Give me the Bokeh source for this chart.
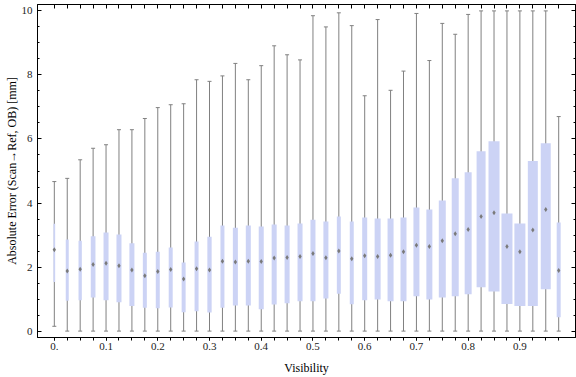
from bokeh.plotting import figure
from bokeh.models import (LinearAxis, FixedTicker, SingleIntervalTicker, Range1d,
                          CustomJSTickFormatter, ColumnDataSource)
from bokeh.embed import file_html
from bokeh.resources import INLINE

# ---- data ----
visibility = [0.0, 0.025, 0.05, 0.075, 0.1, 0.125, 0.15, 0.175, 0.2, 0.225,
              0.25, 0.275, 0.3, 0.325, 0.35, 0.375, 0.4, 0.425, 0.45, 0.475,
              0.5, 0.525, 0.55, 0.575, 0.6, 0.625, 0.65, 0.675, 0.7, 0.725,
              0.75, 0.775, 0.8, 0.825, 0.85, 0.875, 0.9, 0.925, 0.95, 0.975]

whisker_low = [0.15, 0, 0, 0, 0, 0, 0, 0, 0, 0,
               0, 0, 0, 0, 0, 0, 0, 0, 0, 0,
               0, 0, 0, 0, 0, 0, 0, 0, 0, 0,
               0, 0, 0, 0, 0, 0, 0, 0, 0, 0]

q1 = [1.53, 0.95, 0.96, 1.05, 0.96, 0.90, 0.78, 0.73, 0.71, 0.74,
      0.59, 0.62, 0.58, 0.73, 0.80, 0.80, 0.68, 0.83, 0.87, 0.93,
      0.93, 1.02, 1.17, 0.84, 0.96, 0.99, 0.93, 0.93, 1.09, 0.99,
      1.05, 1.09, 1.15, 1.37, 1.24, 0.85, 0.78, 0.78, 1.31, 0.43]

median = [2.54, 1.88, 1.93, 2.08, 2.12, 2.04, 1.91, 1.73, 1.86, 1.92,
          1.63, 1.95, 1.91, 2.18, 2.16, 2.18, 2.17, 2.28, 2.30, 2.33,
          2.42, 2.29, 2.50, 2.26, 2.35, 2.33, 2.37, 2.48, 2.68, 2.64,
          2.82, 3.04, 3.17, 3.58, 3.70, 2.64, 2.48, 3.16, 3.80, 1.89]

q3 = [3.35, 2.86, 2.82, 2.96, 3.08, 3.02, 2.74, 2.45, 2.48, 2.61,
      2.14, 2.80, 2.95, 3.30, 3.23, 3.30, 3.27, 3.33, 3.30, 3.36,
      3.48, 3.42, 3.58, 3.42, 3.55, 3.52, 3.52, 3.55, 3.86, 3.80,
      4.08, 4.77, 4.96, 5.62, 5.93, 3.67, 3.36, 5.31, 5.87, 3.39]

whisker_high = [4.67, 4.77, 5.35, 5.71, 5.82, 6.29, 6.29, 6.64, 6.98, 7.07,
                7.10, 7.85, 7.80, 7.97, 8.36, 7.85, 8.29, 8.91, 8.63, 8.47,
                9.85, 9.50, 9.94, 9.54, 7.35, 9.73, 7.52, 8.12, 9.92, 8.45,
                9.61, 9.27, 9.89, 10.0, 10.0, 10.0, 10.0, 10.0, 10.0, 6.70]

# relative box widths (in Visibility units), varying per bin as in the reference
box_width = [0.0033, 0.0058, 0.0064, 0.0091, 0.0097, 0.0097, 0.0097, 0.0077, 0.0077, 0.0077,
             0.0077, 0.0077, 0.0083, 0.0077, 0.0097, 0.0097, 0.0097, 0.0097, 0.0097, 0.0097,
             0.0097, 0.0097, 0.0077, 0.0077, 0.0097, 0.0116, 0.0116, 0.0116, 0.0116, 0.0116,
             0.0135, 0.0135, 0.0135, 0.0174, 0.0213, 0.0213, 0.0213, 0.0193, 0.0193, 0.0077]

x_label_ticks = [0.0, 0.1, 0.2, 0.3, 0.4, 0.5, 0.6, 0.7, 0.8, 0.9]

src = ColumnDataSource(dict(x=visibility, lo=whisker_low, q1=q1, med=median,
                            q3=q3, hi=whisker_high, w=box_width))

FONT = "Liberation Serif"
GRAY = "#808080"
BOX = "#CCD3F5"

p = figure(width=576, height=377, output_backend="svg", toolbar_location=None,
           x_range=Range1d(-0.0325, 1.0075), y_range=Range1d(-0.2, 10.2),
           min_border_left=37, min_border_right=1, min_border_top=4, min_border_bottom=40)
p.grid.visible = False
p.outline_line_color = "black"
p.outline_line_width = 1
p.background_fill_color = "white"
p.border_fill_color = "white"

# whiskers
p.segment(x0="x", y0="lo", x1="x", y1="hi", source=src, line_color=GRAY, line_width=1)
p.scatter(x="x", y="lo", source=src, marker="dash", size=4, line_color=GRAY, line_width=1)
p.scatter(x="x", y="hi", source=src, marker="dash", size=4, line_color=GRAY, line_width=1)
# boxes
p.vbar(x="x", width="w", bottom="q1", top="q3", source=src, fill_color=BOX, line_color=None)
# medians
p.scatter(x="x", y="med", source=src, marker="diamond", size=5, fill_color="#7a7a7a",
          line_color=None)

# bottom axis
xa = p.xaxis[0]
xa.ticker = FixedTicker(ticks=x_label_ticks, minor_ticks=visibility)
xa.formatter = CustomJSTickFormatter(code="return Math.abs(tick) < 1e-9 ? '0.' : tick.toFixed(1);")
xa.major_tick_in = 0
xa.major_tick_out = 3
xa.minor_tick_in = 0
xa.minor_tick_out = 3
xa.major_label_standoff = 2
xa.axis_label = "Visibility"
xa.axis_label_standoff = 8

# left axis
ya = p.yaxis[0]
ya.ticker = SingleIntervalTicker(interval=2, num_minor_ticks=4)
ya.major_tick_in = 4
ya.major_tick_out = 0
ya.minor_tick_in = 2
ya.minor_tick_out = 0
ya.major_label_standoff = 5
ya.axis_label = "Absolute Error (Scan\u2192Ref, OB) [mm]"
ya.axis_label_standoff = 0

for ax in (xa, ya):
    ax.axis_line_color = "black"
    ax.major_tick_line_color = "black"
    ax.minor_tick_line_color = "black"
    ax.major_label_text_font = FONT
    ax.major_label_text_font_size = "11px"
    ax.major_label_text_color = "#222222"
    ax.axis_label_text_font = FONT
    ax.axis_label_text_font_size = "12px"
    ax.axis_label_text_font_style = "normal"
    ax.axis_label_text_color = "black"

blank = CustomJSTickFormatter(code="return '';")

# right axis (ticks only)
ra = LinearAxis(ticker=SingleIntervalTicker(interval=2, num_minor_ticks=4),
                formatter=blank,
                major_tick_in=4, major_tick_out=0, minor_tick_in=2, minor_tick_out=0,
                major_label_standoff=0, axis_line_color="black")
p.add_layout(ra, "right")

# top axis (ticks only)
ta = LinearAxis(ticker=FixedTicker(ticks=visibility), formatter=CustomJSTickFormatter(code="return '';"),
                major_tick_in=4, major_tick_out=0, minor_tick_in=0, minor_tick_out=0,
                major_label_standoff=0, axis_line_color="black")
p.add_layout(ta, "above")

open("out.html", "w").write(file_html(p, INLINE))
